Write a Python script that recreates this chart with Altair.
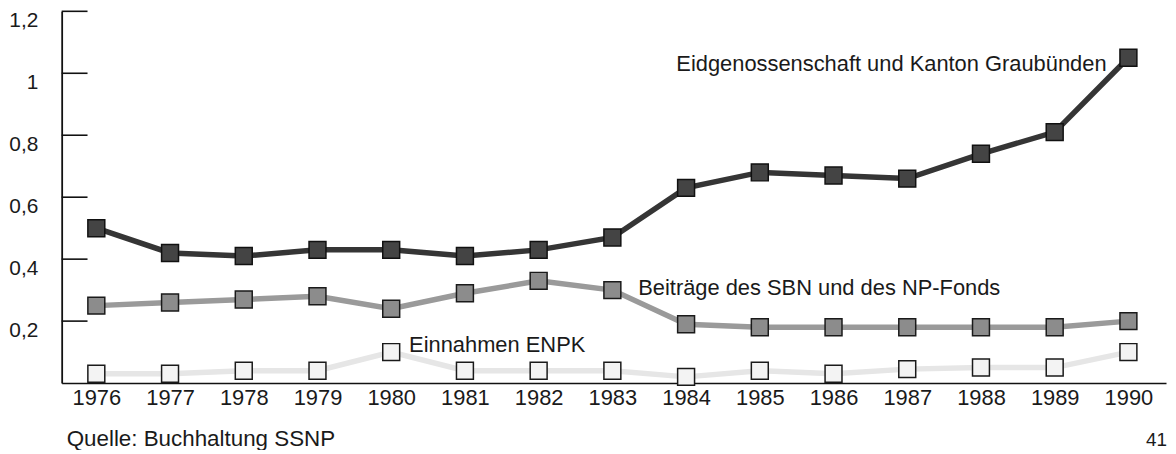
import altair as alt
import pandas as pd

years = list(range(1976, 1991))
bund_kanton = [0.50, 0.42, 0.41, 0.43, 0.43, 0.41, 0.43, 0.47, 0.63, 0.68, 0.67, 0.66, 0.74, 0.81, 1.05]
sbn_npfonds = [0.25, 0.26, 0.27, 0.28, 0.24, 0.29, 0.33, 0.30, 0.19, 0.18, 0.18, 0.18, 0.18, 0.18, 0.20]
enpk = [0.03, 0.03, 0.04, 0.04, 0.10, 0.04, 0.04, 0.04, 0.02, 0.04, 0.03, 0.045, 0.05, 0.05, 0.10]
y_ticks = [0.2, 0.4, 0.6, 0.8, 1.0, 1.2]

label_bund = "Eidgenossenschaft und Kanton Graubünden"
label_sbn = "Beiträge des SBN und des NP-Fonds"
label_enpk = "Einnahmen ENPK"
source_text = "Quelle: Buchhaltung SSNP"
page_number = "41"

FONT = "Liberation Sans"
FS = 22
TXT = "#1a1a1a"
W, H = 1111, 374

df = pd.DataFrame({
    "year": years * 3,
    "value": bund_kanton + sbn_npfonds + enpk,
    "series": ["bund"] * 15 + ["sbn"] * 15 + ["enpk"] * 15,
})
tick_df = pd.DataFrame({"value": y_ticks})

xscale = alt.Scale(domain=[1975.53, 1990.51], nice=False, zero=False)
yscale = alt.Scale(domain=[0, 1.2], nice=False, zero=True)

x_axis = alt.Axis(
    values=years, format="d", title=None, ticks=False, grid=False,
    domainColor="#111", domainWidth=1.6, labelFontSize=FS, labelColor=TXT,
    labelPadding=5, labelFont=FONT, labelFlush=False, labelOverlap=False)
y_axis = alt.Axis(
    values=y_ticks, title=None, ticks=False, grid=False,
    domainColor="#111", domainWidth=1.8, labelFontSize=21, labelColor=TXT,
    labelFont=FONT, labelPadding=24, labelBaseline="alphabetic", labelOffset=15,
    labelExpr="replace(format(datum.value, '.1~f'), '.', ',')", labelFlush=False)

x_enc = alt.X("year:Q", scale=xscale, axis=x_axis)
y_enc = alt.Y("value:Q", scale=yscale, axis=y_axis)

base = alt.Chart(df).encode(x=x_enc, y=y_enc)

styles = {
    "enpk": dict(line="#e6e6e6", fill="#f3f3f3", stroke="#1a1a1a"),
    "sbn": dict(line="#9a9a9a", fill="#8c8c8c", stroke="#1a1a1a"),
    "bund": dict(line="#353535", fill="#444444", stroke="#111111"),
}

layers = []
for s in ["enpk", "sbn", "bund"]:
    st = styles[s]
    sub = base.transform_filter(alt.datum.series == s)
    layers.append(sub.mark_line(color=st["line"], strokeWidth=5.5))
    layers.append(sub.mark_square(size=290, fill=st["fill"], stroke=st["stroke"],
                                  strokeWidth=1.5, opacity=1))

ticks = alt.Chart(tick_df).mark_rule(color="#111", strokeWidth=1.6).encode(
    y=y_enc, x=alt.value(0), x2=alt.value(26))

lab_df = pd.DataFrame({
    "year": [1990, 1983, 1980],
    "value": [bund_kanton[-1], sbn_npfonds[7], enpk[4]],
    "text": [label_bund, label_sbn, label_enpk],
})
lab = alt.Chart(lab_df)
t1 = lab.transform_filter(alt.datum.year == 1990).mark_text(
    align="right", baseline="middle", dx=-22, dy=6, fontSize=FS, font=FONT, color=TXT
).encode(x=alt.X("year:Q", scale=xscale), y=alt.Y("value:Q", scale=yscale), text="text:N")
t2 = lab.transform_filter(alt.datum.year == 1983).mark_text(
    align="left", baseline="middle", dx=26, dy=-2, fontSize=FS, font=FONT, color=TXT
).encode(x=alt.X("year:Q", scale=xscale), y=alt.Y("value:Q", scale=yscale), text="text:N")
t3 = lab.transform_filter(alt.datum.year == 1980).mark_text(
    align="left", baseline="middle", dx=18, dy=-7, fontSize=FS, font=FONT, color=TXT
).encode(x=alt.X("year:Q", scale=xscale), y=alt.Y("value:Q", scale=yscale), text="text:N")

src = alt.Chart(pd.DataFrame({"t": [source_text]})).mark_text(
    align="left", baseline="middle", fontSize=22.5, font=FONT, color=TXT
).encode(x=alt.value(5), y=alt.value(430), text="t:N")

pg = alt.Chart(pd.DataFrame({"t": [page_number]})).mark_text(
    align="right", baseline="alphabetic", fontSize=19, font=FONT, color=TXT
).encode(x=alt.value(1112), y=alt.value(437), text="t:N")

chart = alt.layer(*layers, ticks, t1, t2, t3, src, pg).properties(
    width=W, height=H,
    autosize=alt.AutoSizeParams(type="none"),
    padding={"left": 54, "top": 2, "right": 2, "bottom": 66},
    background="white",
).configure_view(stroke=None)

chart.save("out.html", embed_options={"renderer": "svg", "actions": False})
